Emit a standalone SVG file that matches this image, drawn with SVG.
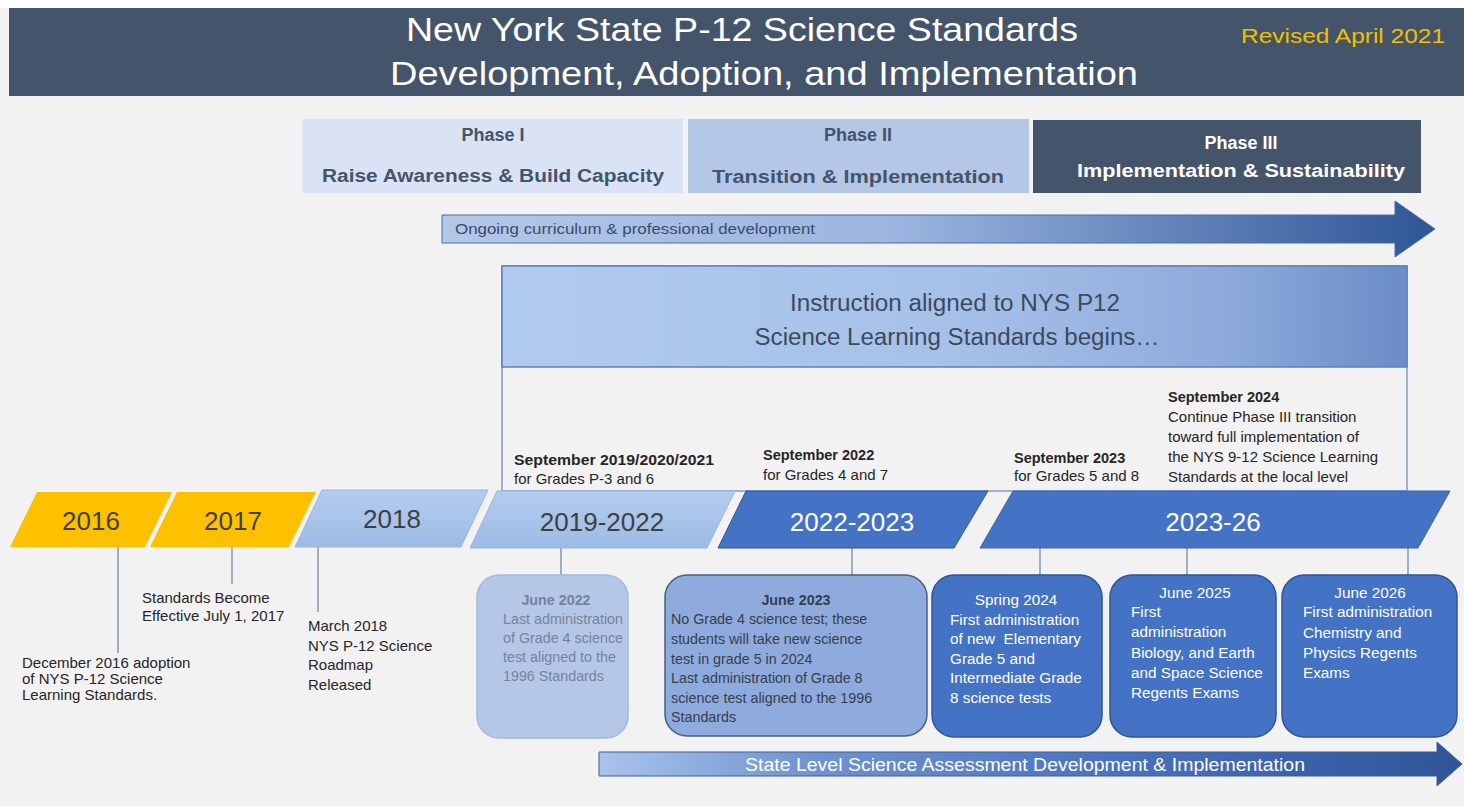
<svg xmlns="http://www.w3.org/2000/svg" width="1464" height="806" viewBox="0 0 1464 806">
<defs>
<style>
text{font-family:"Liberation Sans",Arial,sans-serif;}
.ttl{fill:#ffffff;font-size:34px;text-anchor:middle;}
.ph{fill:#44546a;font-size:18px;font-weight:bold;text-anchor:middle;}
.phw{fill:#ffffff;font-size:18px;font-weight:bold;text-anchor:middle;}
.yr{fill:#404040;font-size:26px;text-anchor:middle;}
.yrw{fill:#ffffff;font-size:26px;text-anchor:middle;}
.sm{fill:#262626;font-size:15px;}
.smb{fill:#262626;font-size:14.5px;font-weight:bold;}
.b1{fill:#76839a;font-size:14.3px;}
.b2{fill:#333f50;font-size:14.3px;}
.bw{fill:#ffffff;font-size:15.3px;}
.ln{stroke:#8497b0;stroke-width:1.5;fill:none;}
</style>
<linearGradient id="gTop" x1="0" y1="0" x2="1" y2="0">
<stop offset="0" stop-color="#b4c7e7"/>
<stop offset="0.45" stop-color="#9cb6e0"/>
<stop offset="1" stop-color="#2f5597"/>
</linearGradient>
<linearGradient id="gBot" x1="0" y1="0" x2="1" y2="0">
<stop offset="0" stop-color="#a9c4eb"/>
<stop offset="0.25" stop-color="#6f93d0"/>
<stop offset="0.6" stop-color="#4a72bd"/>
<stop offset="1" stop-color="#2f5597"/>
</linearGradient>
<linearGradient id="gIns" x1="0" y1="0" x2="1" y2="0">
<stop offset="0" stop-color="#b0cbee"/>
<stop offset="0.5" stop-color="#a6c1e8"/>
<stop offset="0.8" stop-color="#8eaadb"/>
<stop offset="1" stop-color="#6b8cc7"/>
</linearGradient>
<linearGradient id="gLb" x1="0" y1="0" x2="0" y2="1">
<stop offset="0" stop-color="#b4cdee"/>
<stop offset="1" stop-color="#9dbbe6"/>
</linearGradient>
</defs>
<rect x="0" y="0" width="1464" height="806" fill="#f2f2f2"/>
<rect x="0" y="0" width="1464" height="8" fill="#ffffff"/>

<g id="title">
<rect x="9" y="8" width="1455" height="88" fill="#44546a"/>
<text class="ttl" x="742" y="41" textLength="672" lengthAdjust="spacingAndGlyphs">New York State P-12 Science Standards</text>
<text class="ttl" x="764" y="85" textLength="748" lengthAdjust="spacingAndGlyphs">Development, Adoption, and Implementation</text>
<text x="1343" y="43" fill="#f0c000" font-size="20" text-anchor="middle" textLength="204" lengthAdjust="spacingAndGlyphs">Revised April 2021</text>
</g>

<g id="phase1">
<rect x="302" y="119" width="381" height="74" fill="#dae3f3"/>
<text class="ph" x="493" y="141">Phase I</text>
<text class="ph" x="493" y="182" textLength="342" lengthAdjust="spacingAndGlyphs">Raise Awareness &amp; Build Capacity</text>
</g>
<g id="phase2">
<rect x="688" y="119" width="341" height="74" fill="#b4c7e7"/>
<text class="ph" x="858" y="141">Phase II</text>
<text class="ph" x="858" y="183" textLength="292" lengthAdjust="spacingAndGlyphs">Transition &amp; Implementation</text>
</g>
<g id="phase3">
<rect x="1033" y="120" width="388" height="73" fill="#44546a"/>
<text class="phw" x="1241" y="149">Phase III</text>
<text class="phw" x="1241" y="177" textLength="328" lengthAdjust="spacingAndGlyphs">Implementation &amp; Sustainability</text>
</g>

<g id="ongoing">
<path d="M442,215 H1395 V201 L1435,229 L1395,257 V243 H442 Z" fill="url(#gTop)" stroke="#4a6aa8" stroke-width="1"/>
<text x="455" y="234" fill="#3a4c6e" font-size="15" textLength="360" lengthAdjust="spacingAndGlyphs">Ongoing curriculum &amp; professional development</text>
</g>

<g id="instruction">
<rect x="502" y="266" width="905" height="225" fill="none" stroke="#7f9bc8" stroke-width="1.5"/>
<rect x="502" y="266" width="905" height="101" fill="url(#gIns)" stroke="#5f7fb8" stroke-width="1.5"/>
<text x="955" y="311" fill="#3b4a5e" font-size="23" text-anchor="middle" textLength="330" lengthAdjust="spacingAndGlyphs">Instruction aligned to NYS P12</text>
<text x="957" y="345" fill="#3b4a5e" font-size="23" text-anchor="middle" textLength="405" lengthAdjust="spacingAndGlyphs">Science Learning Standards begins…</text>
</g>

<g id="sep2019">
<text class="smb" x="514" y="465" textLength="200" lengthAdjust="spacingAndGlyphs">September 2019/2020/2021</text>
<text class="sm" x="514" y="484">for Grades P-3 and 6</text>
</g>
<g id="sep2022">
<text class="smb" x="763" y="460">September 2022</text>
<text class="sm" x="763" y="480">for Grades 4 and 7</text>
</g>
<g id="sep2023">
<text class="smb" x="1014" y="463">September 2023</text>
<text class="sm" x="1014" y="481">for Grades 5 and 8</text>
</g>
<g id="sep2024">
<text class="smb" x="1168" y="402">September 2024</text>
<text class="sm" x="1168" y="422">Continue Phase III transition</text>
<text class="sm" x="1168" y="442">toward full implementation of</text>
<text class="sm" x="1168" y="462">the NYS 9-12 Science Learning</text>
<text class="sm" x="1168" y="482">Standards at the local level</text>
</g>

<g id="connectors">
<line class="ln" x1="118" y1="547" x2="118" y2="653"/>
<line class="ln" x1="232" y1="547" x2="232" y2="584"/>
<line class="ln" x1="318" y1="547" x2="318" y2="612"/>
<line class="ln" x1="561" y1="548" x2="561" y2="575"/>
<line class="ln" x1="852" y1="548" x2="852" y2="575"/>
<line class="ln" x1="1040" y1="548" x2="1040" y2="576"/>
<line class="ln" x1="1187" y1="548" x2="1187" y2="576"/>
<line class="ln" x1="1408" y1="548" x2="1408" y2="576"/>
</g>

<g id="y2016">
<polygon points="37,492 172,492 145,547 10,547" fill="#ffc000"/>
<text class="yr" x="91" y="530">2016</text>
</g>
<g id="y2017">
<polygon points="177,492 316,492 289,547 150,547" fill="#ffc000"/>
<text class="yr" x="233" y="530">2017</text>
</g>
<g id="y2018">
<polygon points="322,490 488,490 461,547 295,547" fill="url(#gLb)" stroke="#9ab5df" stroke-width="1"/>
<text class="yr" x="392" y="528">2018</text>
</g>
<g id="y2019">
<polygon points="497,491 735,491 707,548 470,548" fill="url(#gLb)" stroke="#9ab5df" stroke-width="1"/>
<text class="yr" x="602" y="531">2019-2022</text>
</g>
<g id="y2022">
<polygon points="746,491 988,491 954,548 718,548" fill="#4472c4" stroke="#2f5597" stroke-width="1"/>
<text class="yrw" x="852" y="531">2022-2023</text>
</g>
<g id="y2023">
<polygon points="1013,491 1450,491 1418,548 980,548" fill="#4472c4" stroke="#3a64b0" stroke-width="1"/>
<text class="yrw" x="1213" y="531">2023-26</text>
</g>

<g id="note2016">
<text class="sm" x="22" y="668">December 2016 adoption</text>
<text class="sm" x="22" y="684">of NYS P-12 Science</text>
<text class="sm" x="22" y="700">Learning Standards.</text>
</g>
<g id="note2017">
<text class="sm" x="142" y="603">Standards Become</text>
<text class="sm" x="142" y="621">Effective July 1, 2017</text>
</g>
<g id="note2018">
<text class="sm" x="308" y="631">March 2018</text>
<text class="sm" x="308" y="651">NYS P-12 Science</text>
<text class="sm" x="308" y="670">Roadmap</text>
<text class="sm" x="308" y="690">Released</text>
</g>

<g id="june2022">
<rect x="477" y="575" width="151" height="163" rx="22" fill="#b4c7e7" stroke="#a3b9dd" stroke-width="1.5"/>
<text class="b1" x="556" y="605" text-anchor="middle" font-weight="bold">June 2022</text>
<text class="b1" x="503" y="624">Last administration</text>
<text class="b1" x="503" y="643">of Grade 4 science</text>
<text class="b1" x="503" y="662">test aligned to the</text>
<text class="b1" x="503" y="681">1996 Standards</text>
</g>
<g id="june2023">
<rect x="665" y="575" width="262" height="161" rx="22" fill="#8faadc" stroke="#4c5f80" stroke-width="1.5"/>
<text class="b2" x="796" y="605" text-anchor="middle" font-weight="bold">June 2023</text>
<text class="b2" x="671" y="624">No Grade 4 science test; these</text>
<text class="b2" x="671" y="644">students will take new science</text>
<text class="b2" x="671" y="664">test in grade 5 in 2024</text>
<text class="b2" x="671" y="683">Last administration of Grade 8</text>
<text class="b2" x="671" y="703">science test aligned to the 1996</text>
<text class="b2" x="671" y="722">Standards</text>
</g>
<g id="spring2024">
<rect x="932" y="575" width="170" height="162" rx="22" fill="#4472c4" stroke="#2f5597" stroke-width="1.5"/>
<text class="bw" x="1016" y="605" text-anchor="middle">Spring 2024</text>
<text class="bw" x="950" y="625">First administration</text>
<text class="bw" x="950" y="644">of new&#160; Elementary</text>
<text class="bw" x="950" y="664">Grade 5 and</text>
<text class="bw" x="950" y="683">Intermediate Grade</text>
<text class="bw" x="950" y="703">8 science tests</text>
</g>
<g id="june2025">
<rect x="1110" y="575" width="166" height="162" rx="22" fill="#4472c4" stroke="#2f5597" stroke-width="1.5"/>
<text class="bw" x="1195" y="598" text-anchor="middle">June 2025</text>
<text class="bw" x="1131" y="617">First</text>
<text class="bw" x="1131" y="637">administration</text>
<text class="bw" x="1131" y="658">Biology, and Earth</text>
<text class="bw" x="1131" y="678">and Space Science</text>
<text class="bw" x="1131" y="698">Regents Exams</text>
</g>
<g id="june2026">
<rect x="1282" y="575" width="175" height="162" rx="22" fill="#4472c4" stroke="#2f5597" stroke-width="1.5"/>
<text class="bw" x="1370" y="598" text-anchor="middle">June 2026</text>
<text class="bw" x="1303" y="617">First administration</text>
<text class="bw" x="1303" y="638">Chemistry and</text>
<text class="bw" x="1303" y="658">Physics Regents</text>
<text class="bw" x="1303" y="678">Exams</text>
</g>

<g id="assessment">
<path d="M599,752 H1437 V742 L1462,764 L1437,786 V776 H599 Z" fill="url(#gBot)" stroke="#3d5f9e" stroke-width="1"/>
<text x="1025" y="771" fill="#ffffff" font-size="18" text-anchor="middle" textLength="560" lengthAdjust="spacingAndGlyphs">State Level Science Assessment Development &amp; Implementation</text>
</g>
</svg>
